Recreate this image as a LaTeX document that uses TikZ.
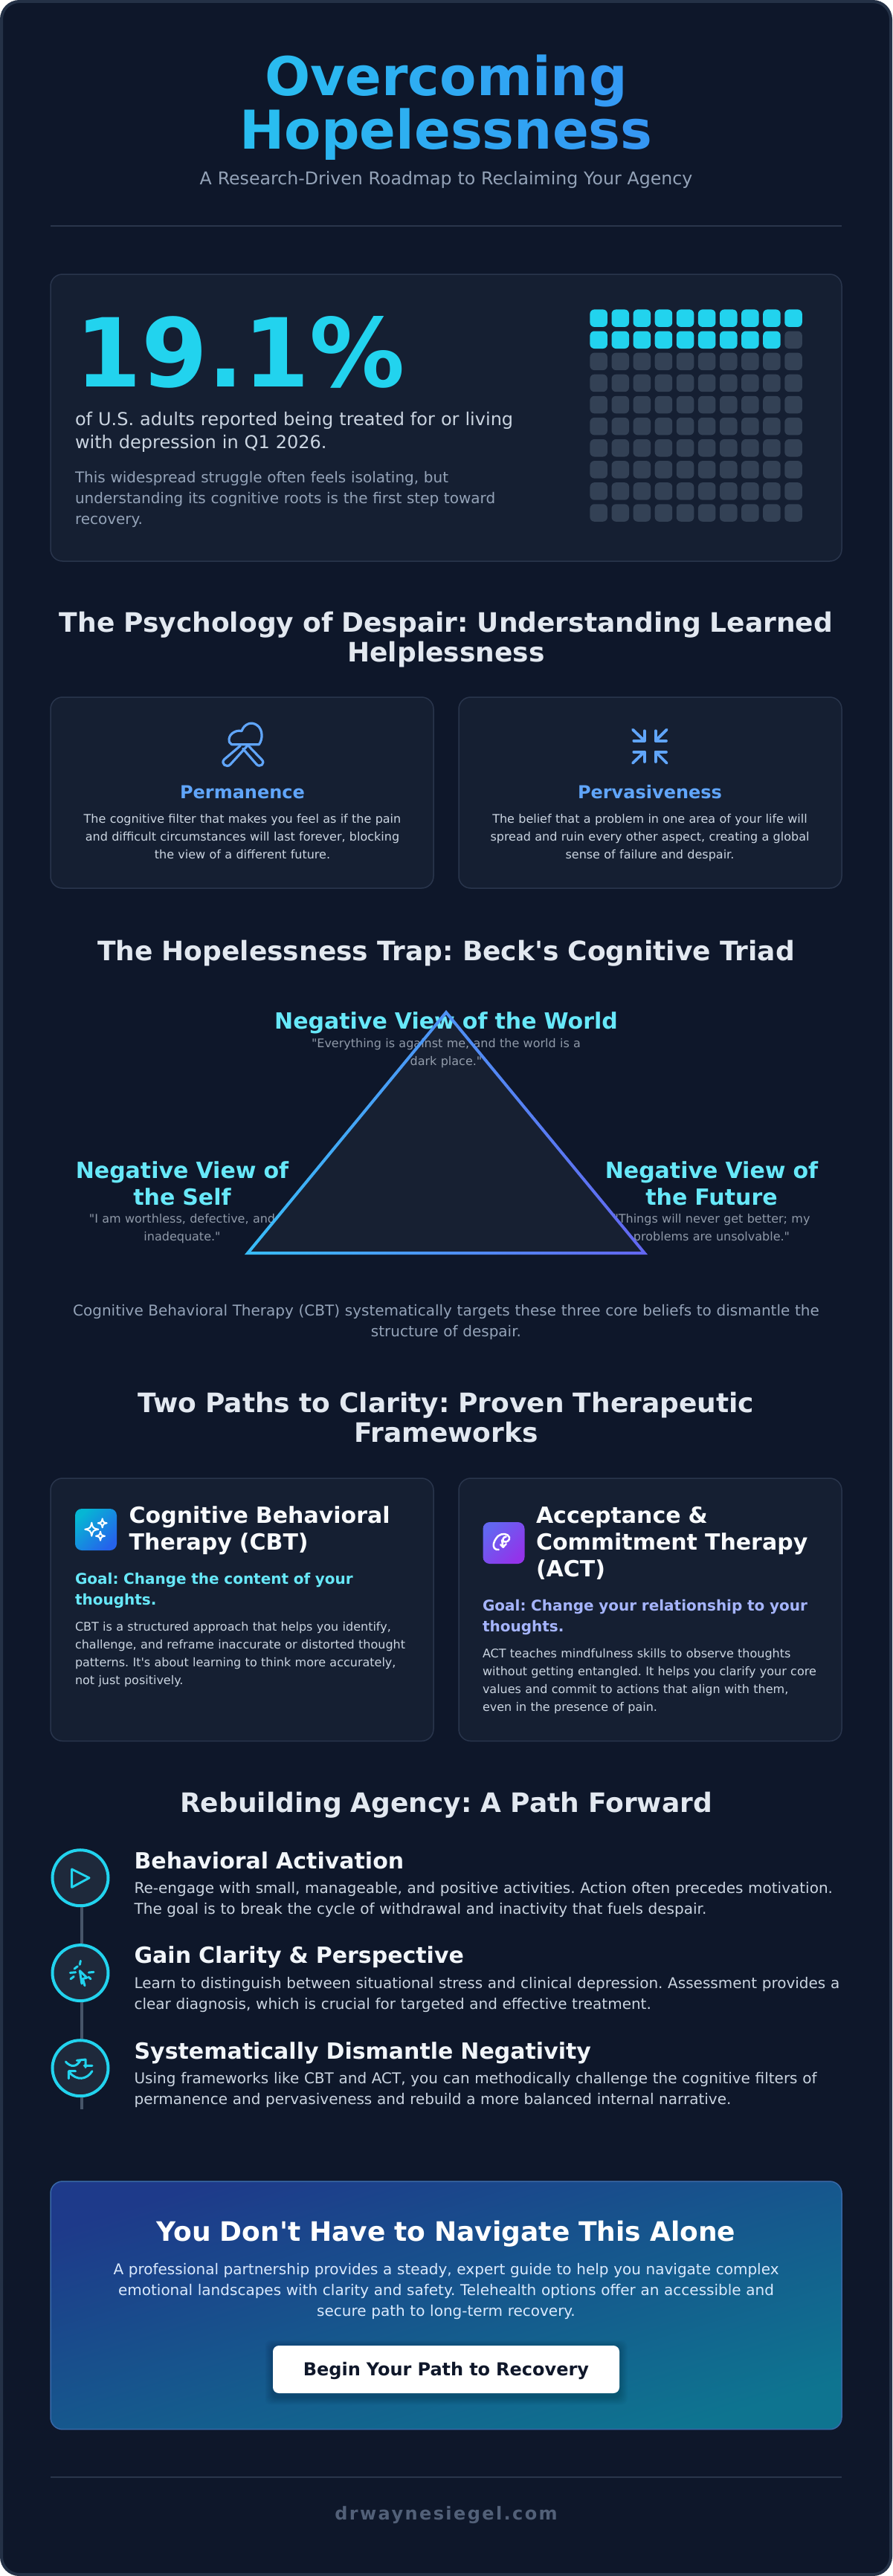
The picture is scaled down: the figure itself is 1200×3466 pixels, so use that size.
\documentclass[tikz,border=0pt]{standalone}
\usepackage{fontspec}
\setmainfont{DejaVu Sans}
\newfontfamily\djfont{DejaVu Sans}
\definecolor{bgc}{HTML}{0E172A}
\definecolor{framec}{HTML}{243146}
\definecolor{cardc}{HTML}{151F32}
\definecolor{cardb}{HTML}{29354C}
\definecolor{rulec}{HTML}{2A364B}
\definecolor{cyanc}{HTML}{22D3EE}
\definecolor{cyanl}{HTML}{67E8F9}
\definecolor{bluec}{HTML}{60A5FA}
\definecolor{indl}{HTML}{A5B4FC}
\definecolor{slate}{HTML}{334155}
\definecolor{slatei}{HTML}{1E293B}
\definecolor{linec}{HTML}{475569}
\definecolor{headc}{HTML}{E2E8F0}
\definecolor{titlec}{HTML}{F8FAFC}
\definecolor{stepc}{HTML}{F1F5F9}
\definecolor{bodyc}{HTML}{CBD5E1}
\definecolor{mutec}{HTML}{94A3B8}
\definecolor{quotec}{HTML}{8F99A8}
\definecolor{ctab}{HTML}{DBEAFE}
\definecolor{domc}{HTML}{526078}
\definecolor{darkc}{HTML}{0F172A}
\definecolor{tcy}{HTML}{22D3EE}
\definecolor{tbl}{HTML}{3B82F6}
\definecolor{sky}{HTML}{38BDF8}
\definecolor{ind}{HTML}{6366F1}
\definecolor{cbtA}{HTML}{06B6D4}
\definecolor{cbtB}{HTML}{2563EB}
\definecolor{actA}{HTML}{6366F1}
\definecolor{actB}{HTML}{9333EA}
\definecolor{ctaA}{HTML}{1E3A8A}
\definecolor{ctaB}{HTML}{0E7490}
\definecolor{ctaE}{HTML}{3868A8}
\newcommand{\gl}[2]{\textcolor{tcy!#1!tbl}{#2}}
\newcommand{\sparkle}[3]{(#1,#2-#3) .. controls (#1+.18*#3,#2-.18*#3) .. (#1+#3,#2) .. controls (#1+.18*#3,#2+.18*#3) .. (#1,#2+#3) .. controls (#1-.18*#3,#2+.18*#3) .. (#1-#3,#2) .. controls (#1-.18*#3,#2-.18*#3) .. cycle}
\tikzset{
  fs/.style 2 args={font=\djfont\frenchspacing\fontsize{#1}{#2}\selectfont},
  bfs/.style 2 args={font=\djfont\frenchspacing\bfseries\fontsize{#1}{#2}\selectfont},
  ctext/.style={anchor=base,inner sep=0pt,outer sep=0pt,text width=#1,align=center},
  ltext/.style={anchor=base west,inner sep=0pt,outer sep=0pt,text width=#1,align=left},
  heading/.style={ctext=1064pt,bfs={36}{40},text=headc},
  panel/.style={fill=cardc,draw=cardb,line width=1.5pt,rounded corners=16pt},
  divider/.style={draw=rulec,line width=1.5pt},
  cbody/.style={ctext=500pt,fs={16}{24},text=bodyc},
  ctitle/.style={ctext=500pt,bfs={24}{28},text=bluec},
  vlabel/.style={ctext=#1,bfs={30}{36},text=cyanl},
  vquote/.style={ctext=#1,fs={16}{24},text=quotec},
  ttitle/.style={ltext=400pt,bfs={30}{36},text=titlec},
  tgoal/.style={ltext=470pt,bfs={20}{28}},
  tbody/.style={ltext=470pt,fs={16}{24},text=bodyc},
  steptitle/.style={ltext=1000pt,bfs={30}{36},text=stepc},
  stepbody/.style={ltext=1000pt,fs={20}{28},text=bodyc},
  stepdot/.style={circle,draw=cyanc,fill=slatei,line width=4pt,minimum size=75pt,inner sep=0pt},
  stepline/.style={draw=linec,line width=4pt},
  iconline/.style={draw=#1,line cap=round,line join=round,fill=none},
  z3/.style={x=.33333pt,y=-.33333pt},
}
\begin{document}
\begin{tikzpicture}[x=1pt,y=-1pt]
\useasboundingbox (0,0) rectangle (1200,3466);
\fill[white] (0,0) rectangle (1200,3466);
\draw[fill=bgc,draw=framec,line width=4pt,rounded corners=24pt] (2,2) rectangle (1198,3464);

% ---------- header
\node[ctext=1064pt,bfs={72}{72}] (title) at (600,128) {%
\gl{70}{O}\gl{65}{v}\gl{60}{e}\gl{57}{r}\gl{53}{c}\gl{48}{o}\gl{43}{m}\gl{38}{i}\gl{34}{n}\gl{30}{g}\\
\gl{73}{H}\gl{68}{o}\gl{63}{p}\gl{59}{e}\gl{55}{l}\gl{52}{e}\gl{47}{s}\gl{43}{s}\gl{39}{n}\gl{34}{e}\gl{30}{s}\gl{26}{s}};
\node[ctext=1064pt,fs={23.65}{30},text=mutec] (subtitle) at (600,248) {A Research-Driven Roadmap to Reclaiming Your Agency};
\draw[divider] (68,304) -- (1132,304);

% ---------- statistic
\draw[panel] (68,369) rectangle (1132,755);
\node[ltext=650pt,bfs={128}{128},text=cyanc] (stat) at (101,520) {19.1\%};
\node[ltext=650pt,fs={24}{31.5},text=bodyc] (statA) at (101,572) {of U.S. adults reported being treated for or living\\with depression in Q1 2026.};
\node[ltext=650pt,fs={20}{28},text=mutec] (statB) at (101,649) {This widespread struggle often feels isolating, but\\understanding its cognitive roots is the first step toward\\recovery.};
\foreach \r in {0,...,9}{
  \foreach \c in {0,...,9}{
    \pgfmathsetmacro{\px}{793.4+29.1*\c}
    \pgfmathsetmacro{\py}{416.4+29.1*\r}
    \pgfmathtruncatemacro{\idx}{10*\r+\c}
    \ifnum\idx<19\def\sq{cyanc}\else\def\sq{slate}\fi
    \fill[\sq,rounded corners=6pt] (\px,\py) rectangle ++(23.5,23.5);
  }
}

% ---------- despair
\node[heading] (despair) at (600,850) {The Psychology of Despair: Understanding Learned\\Helplessness};
\draw[panel] (68,938) rectangle (583,1195);
\draw[panel] (617,938) rectangle (1132,1195);
\begin{scope}[shift={(270,950)},z3]
  \draw[iconline=bluec,line width=3.2pt] (125,155) .. controls (110,150) and (108,118) .. (135,105) .. controls (145,99) and (158,99) .. (165,101) .. controls (175,72) and (205,60) .. (228,78) .. controls (252,96) and (250,135) .. (235,155) -- cycle;
  \draw[iconline=bluec,line width=3.2pt] (160,160) -- (95,215) .. controls (78,232) and (105,252) .. (120,235) -- (190,158);
  \draw[iconline=bluec,line width=3.2pt] (170,172) -- (225,235) .. controls (238,250) and (264,232) .. (245,215) -- (190,158);
\end{scope}
\begin{scope}[shift={(820,960)},z3]
  \foreach \a/\b/\c/\d/\e/\f/\g/\h in {93/65/140/110/140/70/97/110, 230/65/185/110/185/70/228/110, 93/200/140/155/97/155/140/195, 230/200/185/155/228/155/185/195}{
    \draw[iconline=bluec,line width=3.8pt] (\a,\b) -- (\c,\d);
    \draw[iconline=bluec,line width=3.8pt] (\e,\f) -- (\c,\d) -- (\g,\h);
  }
\end{scope}
\node[ctitle] (perm) at (326,1074) {Permanence};
\node[ctitle] (perv) at (874,1074) {Pervasiveness};
\node[cbody] (permB) at (326,1107) {The cognitive filter that makes you feel as if the pain\\and difficult circumstances will last forever, blocking\\the view of a different future.};
\node[cbody] (pervB) at (874,1107) {The belief that a problem in one area of your life will\\spread and ruin every other aspect, creating a global\\sense of failure and despair.};

% ---------- triad
\node[heading] (trap) at (600,1292) {The Hopelessness Trap: Beck's Cognitive Triad};
\node[vlabel=640pt] (world) at (600,1384.7) {Negative View of the World};
\node[vquote=420pt] (worldQ) at (600,1409.5) {"Everything is against me, and the world is a\\dark place."};
\node[vlabel=340pt] (self) at (245,1585.6) {Negative View of\\the Self};
\node[vquote=340pt] (selfQ) at (245,1645.7) {"I am worthless, defective, and\\inadequate."};
\node[vlabel=340pt] (future) at (957,1585.6) {Negative View of\\the Future};
\node[vquote=340pt] (futureQ) at (957,1645.7) {"Things will never get better; my\\problems are unsolvable."};
\fill[white,opacity=.04] (600,1359) -- (329,1688) -- (871,1688) -- cycle;
\shade[even odd rule,left color=sky,right color=ind] (600,1359) -- (329,1688) -- (871,1688) -- cycle (600,1365.3) -- (337.5,1684) -- (862.5,1684) -- cycle;
\node[ctext=1064pt,fs={20}{28},text=mutec] (caption) at (600,1770) {Cognitive Behavioral Therapy (CBT) systematically targets these three core beliefs to dismantle the\\structure of despair.};

% ---------- two paths
\node[heading] (paths) at (600,1900.7) {Two Paths to Clarity: Proven Therapeutic\\Frameworks};
\draw[panel] (68,1989) rectangle (583,2342.5);
\draw[panel] (617,1989) rectangle (1132,2342.5);
\shade[rounded corners=9pt,top color=cbtA,bottom color=cbtB,shading angle=45] (101,2030) rectangle (157,2086);
\draw[white,line width=2pt,line join=round] \sparkle{123.3}{2057.7}{9};
\draw[white,line width=2pt,line join=round] \sparkle{137.7}{2049.3}{6};
\draw[white,line width=2pt,line join=round] \sparkle{135}{2066.7}{6};
\shade[rounded corners=9pt,top color=actA,bottom color=actB,shading angle=45] (649.5,2048) rectangle (705.5,2104);
\begin{scope}[shift={(640,2035)},z3]
  \draw[iconline=white,line width=2.5pt] (92,150) .. controls (78,152) and (68,142) .. (72,125) .. controls (76,110) and (85,100) .. (90,95) .. controls (105,82) and (130,85) .. (135,100) .. controls (138,112) and (125,122) .. (113,118) .. controls (105,112) and (110,98) .. (122,98);
  \draw[iconline=white,line width=2.5pt] (105,112) -- (110,140);
  \draw[iconline=white,line width=2.5pt] (100,130) -- (110,140) -- (122,127);
\end{scope}
\node[ttitle] (cbtT) at (173.7,2049) {Cognitive Behavioral\\Therapy (CBT)};
\node[ttitle] (actT) at (721,2049) {Acceptance \&\\Commitment Therapy\\(ACT)};
\node[tgoal,text=cyanl] (cbtG) at (101,2131) {Goal: Change the content of your\\thoughts.};
\node[tgoal,text=indl] (actG) at (649,2167) {Goal: Change your relationship to your\\thoughts.};
\node[tbody] (cbtB) at (101,2194.6) {CBT is a structured approach that helps you identify,\\challenge, and reframe inaccurate or distorted thought\\patterns. It's about learning to think more accurately,\\not just positively.};
\node[tbody] (actB) at (649,2230.7) {ACT teaches mindfulness skills to observe thoughts\\without getting entangled. It helps you clarify your core\\values and commit to actions that align with them,\\even in the presence of pain.};

% ---------- path forward
\node[heading] (agency) at (600,2438) {Rebuilding Agency: A Path Forward};
\coordinate (lineEnd) at (110,2838);
\node[stepdot] (dotA) at (108,2526.7) {};
\node[stepdot] (dotB) at (108,2654.6) {};
\node[stepdot] (dotC) at (108,2782.7) {};
\draw[stepline] ([xshift=2pt]dotA.south) -- ([xshift=2pt]dotB.north);
\draw[stepline] ([xshift=2pt]dotB.south) -- ([xshift=2pt]dotC.north);
\draw[stepline] ([xshift=2pt]dotC.south) -- (lineEnd);
\begin{scope}[shift={(60,2470)},z3]
  \draw[iconline=cyanc,line width=3pt] (110,135) -- (180,170) -- (110,208) -- cycle;
  \draw[iconline=cyanc,line width=3pt] (145,505) -- (142,520) (133,527) -- (120,537) (103,553) -- (125,551) (105,578) -- (118,568) (178,552) -- (198,550) (177,570) -- (186,578);
  \draw[iconline=cyanc,line width=3pt] (142,545) -- (170,573) -- (155,577) -- (150,597) -- cycle (155,580) -- (162,605);
  \draw[iconline=cyanc,line width=3pt] (85,912) .. controls (105,935) and (130,935) .. (145,905) (130,907) -- (165,903) -- (165,935) (160,928) -- (192,928);
  \draw[iconline=cyanc,line width=3pt] (192,950) .. controls (170,985) and (130,990) .. (100,955) (97,980) -- (97,950) -- (125,950);
\end{scope}
\node[steptitle] (stepA) at (180.6,2514) {Behavioral Activation};
\node[stepbody] (stepAb) at (180.6,2547.7) {Re-engage with small, manageable, and positive activities. Action often precedes motivation.\\The goal is to break the cycle of withdrawal and inactivity that fuels despair.};
\node[steptitle] (stepB) at (180.6,2641.7) {Gain Clarity \& Perspective};
\node[stepbody] (stepBb) at (180.6,2675.7) {Learn to distinguish between situational stress and clinical depression. Assessment provides a\\clear diagnosis, which is crucial for targeted and effective treatment.};
\node[steptitle] (stepC) at (180.6,2770) {Systematically Dismantle Negativity};
\node[stepbody] (stepCb) at (180.6,2803.7) {Using frameworks like CBT and ACT, you can methodically challenge the cognitive filters of\\permanence and pervasiveness and rebuild a more balanced internal narrative.};

% ---------- call to action
\shade[rounded corners=16pt,top color=ctaA,bottom color=ctaB,shading angle=17] (68,2935) rectangle (1132,3268.7);
\draw[draw=ctaE,line width=1.5pt,rounded corners=16pt] (68,2935) rectangle (1132,3268.7);
\node[ctext=1000pt,bfs={36}{40},text=white] (alone) at (600,3015) {You Don't Have to Navigate This Alone};
\node[ctext=1000pt,fs={20}{28},text=ctab] (ctaBody) at (600,3060) {A professional partnership provides a steady, expert guide to help you navigate complex\\emotional landscapes with clarity and safety. Telehealth options offer an accessible and\\secure path to long-term recovery.};
\foreach \s in {1,...,7}{
  \fill[black,opacity=.028,rounded corners=8pt] (367-\s*1.5,3159-\s*1.5) rectangle (833+\s*1.5,3225+\s*1.5);
}
\fill[white,rounded corners=8pt] (367,3156) rectangle (833,3220);
\node[ctext=440pt,bfs={24}{28},text=darkc] (button) at (600,3196) {Begin Your Path to Recovery};

% ---------- footer
\draw[divider] (68,3333) -- (1132,3333);
\node[ctext=600pt,font=\djfont\frenchspacing\bfseries\fontsize{24}{28}\selectfont\addfontfeature{LetterSpace=10},text=domc] (domain) at (600,3390) {drwaynesiegel.com};
\end{tikzpicture}
\end{document}
